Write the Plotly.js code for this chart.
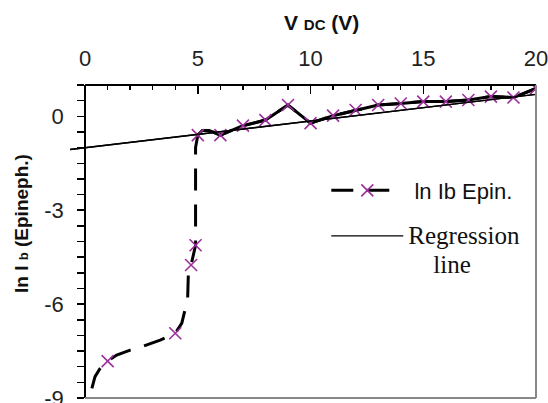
<!DOCTYPE html>
<html>
<head>
<meta charset="utf-8">
<script src="https://cdn.plot.ly/plotly-3.0.1.min.js"></script>
<style>html,body{margin:0;padding:0;background:#fff;}#chart{width:548px;height:403px;}</style>
</head>
<body>
<div id="chart"></div>
<script>
// Curve of ln Ib (Epinephrine) vs V DC
const epinX = [0.30, 0.44, 0.67, 1.0, 1.40, 2.0, 2.40, 2.73, 3.33, 4.0, 4.29, 4.43, 4.55, 4.58, 4.7, 4.9, 4.9, 5.0,
               5.2, 5.5, 6, 7, 8, 9, 10, 11, 12, 13, 14, 15, 16, 17, 18, 19, 20];
const epinY = [-8.69, -8.32, -8.05, -7.82, -7.63, -7.47, -7.39, -7.31, -7.15, -6.93, -6.61, -6.19, -5.80, -5.0, -4.75, -4.12, -1.0, -0.60,
               -0.45, -0.45, -0.60, -0.30, -0.12, 0.36, -0.22, 0.02, 0.20, 0.36, 0.41, 0.47, 0.47, 0.52, 0.63, 0.60, 0.89];
// x values of the points that carry a marker
const markedX = [1.0, 4.0, 4.7, 4.9, 5.0, 6, 7, 8, 9, 10, 11, 12, 13, 14, 15, 16, 17, 18, 19, 20];
// Regression line (it starts a little left of the y axis)
const regX = [-0.67, 20];
const regY = [-1.06, 0.70];
// Axis ticks
const xTicks = [0, 5, 10, 15, 20];
const yTicks = [-9, -6, -3, 0];

const xMin = 0, xMax = 20, regStart = regX[0];
const solidFrom = 5.0;
const markedIdx = markedX.map(x => epinX.indexOf(x));
const upperX = epinX.filter(x => x >= solidFrom);
const upperY = epinY.filter((y, i) => epinX[i] >= solidFrom);
const axisPos = (xMin - regStart) / (xMax - regStart);   // paper position of x = 0

const purple = '#9b2f9b';
const serif = "font-family:'Liberation Serif','Times New Roman',serif;font-size:25px";
const traces = [
  {
    x: regX, y: regY, type: 'scatter', mode: 'lines', name: 'Regression line',
    line: {color: '#000', width: 1.3}, showlegend: false, hoverinfo: 'skip'
  },
  {
    x: upperX, y: upperY, type: 'scatter', mode: 'lines', showlegend: false,
    line: {color: '#000', width: 3}, hoverinfo: 'skip'
  },
  {
    x: epinX, y: epinY, type: 'scatter', mode: 'lines+markers', name: '&nbsp;ln Ib Epin.',
    legendgroup: 'a',
    line: {color: '#000', width: 3, dash: '22px,14px'},
    marker: {symbol: 'x-thin-open', size: 12, color: purple, line: {color: purple, width: 1.6}},
    selectedpoints: markedIdx,
    selected: {marker: {opacity: 1}},
    unselected: {marker: {opacity: 0}}
  },
  {
    x: regX, y: regY, type: 'scatter', mode: 'lines', legendgroup: 'b',
    name: '<span style="' + serif + '">Regression</span><br><span style="' + serif + '">&nbsp;&nbsp;&nbsp;&nbsp;line</span>',
    line: {color: '#000', width: 1.3}, hoverinfo: 'skip'
  }
];

const layout = {
  width: 548, height: 403,
  margin: {l: 70, r: 12, t: 85, b: 5},
  paper_bgcolor: '#fff', plot_bgcolor: '#fff',
  font: {family: 'Liberation Sans, Arial, sans-serif', color: '#111'},
  showlegend: true,
  legend: {
    x: 0.55, y: 0.73, xanchor: 'left', yanchor: 'top',
    bgcolor: 'rgba(0,0,0,0)', borderwidth: 0,
    font: {family: 'Liberation Sans, Arial, sans-serif', size: 22, color: '#111'},
    itemwidth: 72, valign: 'top', traceorder: 'grouped', tracegroupgap: 14
  },
  xaxis: {
    side: 'top', range: [regStart, xMax], tickvals: xTicks, ticktext: xTicks.map(String),
    ticks: 'inside', ticklen: 9, tickwidth: 1.5, tickcolor: '#000',
    minor: {tick0: 0, dtick: 1, ticks: 'inside', ticklen: 5, tickwidth: 1.5, tickcolor: '#000'},
    showline: false, zeroline: false, showgrid: false,
    tickfont: {size: 22, color: '#222'}, ticklabelstandoff: 14, ticklabeloverflow: 'allow'
  },
  yaxis: {
    anchor: 'free', position: axisPos,
    range: [-9, 1], tickvals: yTicks, ticktext: yTicks.map(String),
    ticks: 'outside', ticklen: 7, tickwidth: 1.5, tickcolor: '#000',
    minor: {dtick: 0.5, ticks: 'outside', ticklen: 7, tickwidth: 1.5, tickcolor: '#000'},
    showline: true, linecolor: '#000', linewidth: 2, zeroline: false, showgrid: false,
    tickfont: {size: 22, color: '#222'}, ticklabelstandoff: 9, ticklabeloverflow: 'allow'
  },
  shapes: [
    {type: 'line', xref: 'paper', yref: 'paper', x0: axisPos, x1: 1, y0: 1, y1: 1, line: {color: '#000', width: 2}},
    {type: 'line', xref: 'paper', yref: 'paper', x0: 1, x1: 1, y0: 0, y1: 1, line: {color: '#888', width: 2}},
    {type: 'line', xref: 'paper', yref: 'paper', x0: axisPos, x1: 1, y0: 0, y1: 0, line: {color: '#888', width: 2}}
  ],
  annotations: [
    {text: '<b>V <span style="font-size:15px">DC</span> (V)</b>',
     xref: 'paper', yref: 'paper', x: 0.539, y: 1.201, xanchor: 'center', yanchor: 'middle', showarrow: false,
     font: {size: 21, color: '#111'}},
    {text: '<b>ln I <span style="font-size:13px">b</span> (Epineph.)</b>', textangle: -90,
     xref: 'paper', yref: 'paper', x: -0.103, y: 0.556, xanchor: 'center', yanchor: 'middle', showarrow: false,
     font: {size: 19, color: '#111'}}
  ]
};

Plotly.newPlot('chart', traces, layout, {displayModeBar: false, staticPlot: true});
</script>
</body>
</html>
